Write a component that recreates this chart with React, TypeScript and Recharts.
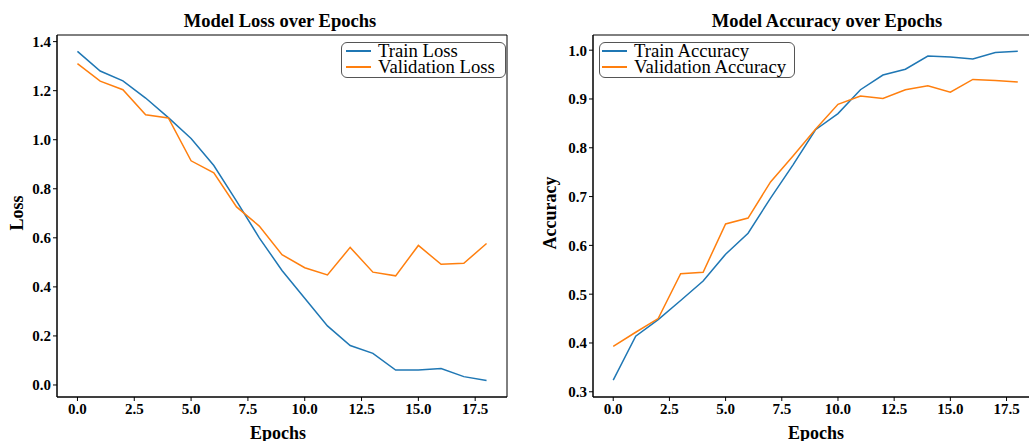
import React from 'react';
import { Legend, Line, LineChart, ReferenceArea, XAxis, YAxis } from 'recharts';

// values, one entry per epoch
const epochs = [0, 1, 2, 3, 4, 5, 6, 7, 8, 9, 10, 11, 12, 13, 14, 15, 16, 17, 18];
const trainLoss = [1.36, 1.28, 1.24, 1.17, 1.09, 1.005, 0.895, 0.75, 0.6, 0.467, 0.354, 0.241, 0.161, 0.129, 0.061, 0.061, 0.067, 0.034, 0.018];
const valLoss = [1.31, 1.239, 1.204, 1.102, 1.089, 0.914, 0.865, 0.726, 0.648, 0.531, 0.478, 0.449, 0.561, 0.46, 0.445, 0.569, 0.492, 0.496, 0.577];
const trainAcc = [0.324, 0.414, 0.448, 0.487, 0.527, 0.582, 0.625, 0.697, 0.765, 0.837, 0.87, 0.919, 0.949, 0.961, 0.988, 0.986, 0.982, 0.995, 0.998];
const valAcc = [0.393, 0.422, 0.45, 0.542, 0.545, 0.644, 0.656, 0.73, 0.783, 0.838, 0.889, 0.906, 0.901, 0.919, 0.927, 0.914, 0.94, 0.938, 0.935];

const xTicks = [0, 2.5, 5, 7.5, 10, 12.5, 15, 17.5];
const lossTicks = [0, 0.2, 0.4, 0.6, 0.8, 1.0, 1.2, 1.4];
const accTicks = [0.3, 0.4, 0.5, 0.6, 0.7, 0.8, 0.9, 1.0];

// matplotlib-style 5% margins
const xDomain: [number, number] = [-0.9, 18.9];
const lossDomain: [number, number] = [-0.049, 1.427];
const accDomain: [number, number] = [0.2893, 1.0311];

const BLUE = '#1f77b4';
const ORANGE = '#ff7f0e';
const SERIF = '"Liberation Serif", "Times New Roman", serif';

const lossData = epochs.map((e, i) => ({ epoch: e, train: trainLoss[i], val: valLoss[i] }));
const accData = epochs.map((e, i) => ({ epoch: e, train: trainAcc[i], val: valAcc[i] }));

const tickStyle = { fontFamily: SERIF, fontWeight: 700, fontSize: 15, fill: '#000' };

const LegendBox = ({ payload, pad }: any) => (
  <div
    style={{
      border: '1px solid #555',
      borderRadius: 6,
      background: '#fff',
      padding: `0 ${pad + 6}px 2px ${pad}px`,
      fontFamily: SERIF,
      fontSize: 18.7,
      lineHeight: '16px',
      whiteSpace: 'nowrap',
    }}
  >
    {(payload || []).map((p: any) => (
      <div key={p.value} style={{ display: 'flex', alignItems: 'center', height: 16 }}>
        <span style={{ display: 'inline-block', width: 25, height: 2, background: p.color, marginRight: 7 }} />
        <span>{p.value}</span>
      </div>
    ))}
  </div>
);

function Panel({
  data,
  yTicks,
  yDomain,
  width,
  yAxisWidth,
  rightMargin,
  names,
  legendPos,
  legendPad,
}: any) {
  return (
    <LineChart
      width={width}
      height={441}
      data={data}
      margin={{ top: 35, right: rightMargin, bottom: 0, left: 0 }}
    >
      <XAxis
        dataKey="epoch"
        type="number"
        domain={xDomain}
        ticks={xTicks}
        allowDataOverflow
        tickFormatter={(v: number) => v.toFixed(1)}
        height={44}
        tick={tickStyle}
        tickSize={4}
        axisLine={{ stroke: '#000' }}
        tickLine={{ stroke: '#000' }}
      />
      <YAxis
        type="number"
        domain={yDomain}
        ticks={yTicks}
        allowDataOverflow
        tickFormatter={(v: number) => v.toFixed(1)}
        width={yAxisWidth}
        tick={tickStyle}
        tickSize={4}
        axisLine={{ stroke: '#000' }}
        tickLine={{ stroke: '#000' }}
      />
      <ReferenceArea
        x1={xDomain[0]}
        x2={xDomain[1]}
        y1={yDomain[0]}
        y2={yDomain[1]}
        fill="none"
        stroke="#000"
        strokeWidth={1}
        ifOverflow="visible"
      />
      <Legend
        layout="horizontal"
        verticalAlign="middle"
        align="center"
        wrapperStyle={{ position: 'absolute', left: legendPos[0], top: legendPos[1], width: 'auto', height: 'auto' }}
        content={(props: any) => <LegendBox payload={props.payload} pad={legendPad} />}
      />
      <Line type="linear" dataKey="train" name={names[0]} stroke={BLUE} strokeWidth={1.5} dot={false} isAnimationActive={false} />
      <Line type="linear" dataKey="val" name={names[1]} stroke={ORANGE} strokeWidth={1.5} dot={false} isAnimationActive={false} />
    </LineChart>
  );
}

export default function App() {
  const titleStyle = { fontFamily: SERIF, fontWeight: 700, fontSize: 18.5 } as const;
  const labelStyle = { fontFamily: SERIF, fontWeight: 700, fontSize: 18 } as const;
  return (
    <div style={{ position: 'absolute', left: 0, top: 0, width: 1029, height: 441, overflow: 'hidden', background: '#fff' }}>
      <div style={{ position: 'absolute', left: 0, top: 0 }}>
        <Panel
          data={lossData}
          yTicks={lossTicks}
          yDomain={lossDomain}
          width={520}
          yAxisWidth={57}
          rightMargin={13}
          names={['Train Loss', 'Validation Loss']}
          legendPos={[341, 42]}
          legendPad={4}
        />
      </div>
      <div style={{ position: 'absolute', left: 510, top: 0 }}>
        <Panel
          data={accData}
          yTicks={accTicks}
          yDomain={accDomain}
          width={545}
          yAxisWidth={83}
          rightMargin={17}
          names={['Train Accuracy', 'Validation Accuracy']}
          legendPos={[89, 42]}
          legendPad={2}
        />
      </div>
      <svg width={1029} height={441} style={{ position: 'absolute', left: 0, top: 0, pointerEvents: 'none' }}>
        <text x={280} y={27} textAnchor="middle" style={titleStyle}>Model Loss over Epochs</text>
        <text x={827} y={27} textAnchor="middle" style={titleStyle}>Model Accuracy over Epochs</text>
        <text x={278} y={439} textAnchor="middle" style={labelStyle}>Epochs</text>
        <text x={816} y={439} textAnchor="middle" style={labelStyle}>Epochs</text>
        <text x={23} y={213} textAnchor="middle" transform="rotate(-90 23 213)" style={labelStyle}>Loss</text>
        <text x={556} y={213} textAnchor="middle" transform="rotate(-90 556 213)" style={labelStyle}>Accuracy</text>
      </svg>
    </div>
  );
}
